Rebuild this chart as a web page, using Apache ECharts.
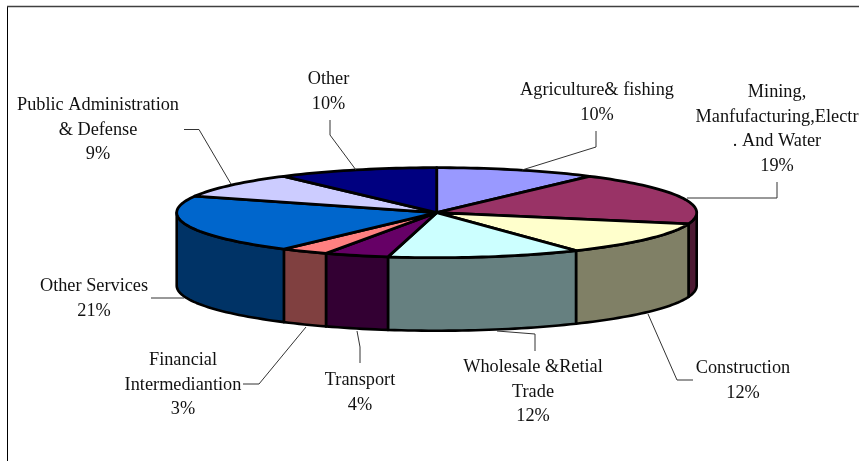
<!DOCTYPE html>
<html><head><meta charset="utf-8">
<style>html,body{margin:0;padding:0;background:#fff}#c{width:859px;height:461px}</style>
<script src="https://cdn.jsdelivr.net/npm/echarts@6/dist/echarts.min.js"></script>
</head><body><div id="c"></div>
<script>
const categories = ['Agriculture& fishing','Mining,\nManfufacturing,Electr\n. And Water','Construction','Wholesale &Retial\nTrade','Transport','Financial\nIntermediantion','Other Services','Public Administration\n& Defense','Other'];
const shares = [10,19,12,12,4,3,21,9,10];
const topColors = ['#9999FF','#993366','#FFFFCC','#CCFFFF','#660066','#FF8080','#0066CC','#CCCCFF','#000080'];
const sideColors = ['#4D4D80','#4D1A33','#808066','#668080','#330033','#804040','#003366','#666680','#000040'];
const labelPos = [[597,78],[777,80],[743,356],[533,355],[360,368],[183,348],[94,274],[98,93],[328.5,67]];
const leaders = [
 [[596,131],[596,147],[522,170]],
 [[777,182],[777,198],[687,198]],
 [[648,314],[677,380],[693,380]],
 [[535,351],[535,334],[497,331]],
 [[357,331],[360,347],[360,363]],
 [[306,327],[259,384],[243,384]],
 [[151,298],[176,298],[184,298]],
 [[184,129.5],[199,129.5],[231,184]],
 [[330,120],[330,135],[356,170]]
];
const CX=436.7, CY=212.7, RX=260, RY=45, DEPTH=73;
const total = shares.reduce((a,b)=>a+b,0);
function range(i){let s=0;for(let k=0;k<i;k++)s+=shares[k];return [s/total*360,(s+shares[i])/total*360];}
function pt(deg,dy){const r=deg*Math.PI/180;return [CX+RX*Math.sin(r),CY-RY*Math.cos(r)+(dy||0)];}
function arc(a,b,dy){const n=Math.max(2,Math.ceil(Math.abs(b-a)/1.5));const o=[];for(let i=0;i<=n;i++)o.push(pt(a+(b-a)*i/n,dy));return o;}
const rows = categories.map((c,i)=>[i,shares[i]]);
const none = {type:'group',children:[]};
const option = {
  backgroundColor:'#fff',
  animation:false,
  graphic:[
    {type:'line',silent:true,z:1,shape:{x1:7.5,y1:6,x2:7.5,y2:461},style:{stroke:'#000',lineWidth:1}},
    {type:'line',silent:true,z:1,shape:{x1:7,y1:6.5,x2:859,y2:6.5},style:{stroke:'#404040',lineWidth:1.6}}
  ],
  series:[
    {type:'custom',coordinateSystem:'none',data:rows,z:2,silent:true,
     renderItem(p){
       const [a,b]=range(p.dataIndex);
       const s=Math.max(a,90), e=Math.min(b,270);
       if(e<=s) return none;
       const pts=arc(s,e,0).concat(arc(e,s,DEPTH));
       return {type:'polygon',shape:{points:pts},style:{fill:sideColors[p.dataIndex],stroke:'#000',lineWidth:2.6,lineJoin:'round'}};
     }},
    {type:'custom',coordinateSystem:'none',data:rows,z:3,silent:true,
     renderItem(p){
       const [a,b]=range(p.dataIndex);
       const pts=[[CX,CY]].concat(arc(a,b,0));
       return {type:'polygon',shape:{points:pts},style:{fill:topColors[p.dataIndex],stroke:'#000',lineWidth:2.8,lineJoin:'round'}};
     }},
    {type:'custom',coordinateSystem:'none',data:rows,z:4,silent:true,
     renderItem(p,api){
       const i=p.dataIndex;
       return {type:'group',children:[
         {type:'polyline',shape:{points:leaders[i]},style:{fill:null,stroke:'#333',lineWidth:1}},
         {type:'text',x:labelPos[i][0],y:labelPos[i][1],style:{
           text:categories[i]+'\n'+api.value(1)+'%',
           fill:'#111',font:'18.3px "Liberation Serif"',
           fontFamily:'Liberation Serif',fontSize:18.3,
           align:'center',verticalAlign:'top',lineHeight:24.6}}
       ]};
     }}
  ]
};
echarts.init(document.getElementById('c'),null,{renderer:'canvas'}).setOption(option);
</script></body></html>
